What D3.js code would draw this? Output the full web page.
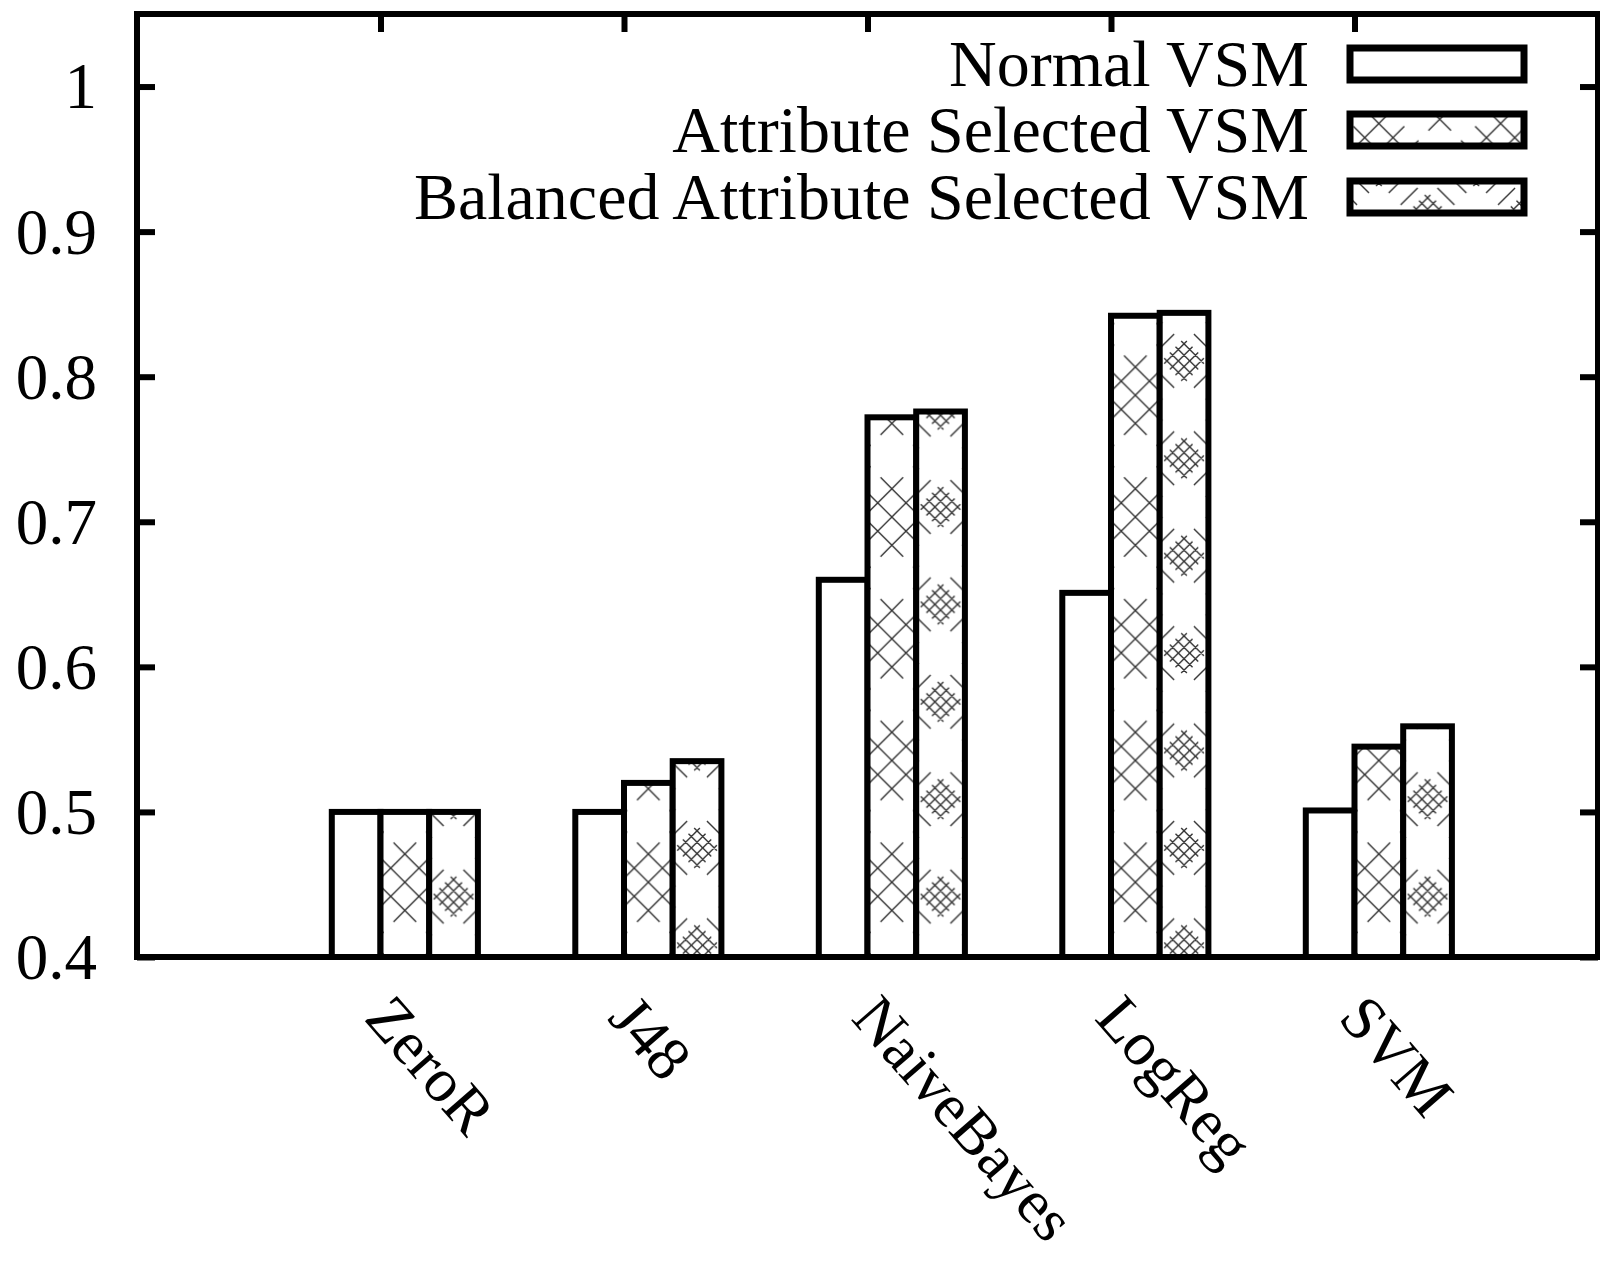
<!DOCTYPE html>
<html>
<head>
<meta charset="utf-8">
<script src="https://cdn.jsdelivr.net/npm/d3@7"></script>
<style>
  body { margin: 0; background: #fff; }
  svg { display: block; }
  text { font-family: "Liberation Serif", "Times New Roman", serif; fill: #000; }
</style>
</head>
<body>
<div id="container"></div>
<script>
/* DATA */
const categories = ["ZeroR", "J48", "NaiveBayes", "LogReg", "SVM"];
const seriesNames = ["Normal VSM", "Attribute Selected VSM", "Balanced Attribute Selected VSM"];
const normalVSM = [0.5, 0.5, 0.66, 0.651, 0.501];
const attrVSM = [0.5, 0.52, 0.772, 0.842, 0.545];
const balancedVSM = [0.5, 0.535, 0.776, 0.844, 0.559];
const yTicks = [0.4, 0.5, 0.6, 0.7, 0.8, 0.9, 1];

const seriesValues = [normalVSM, attrVSM, balancedVSM];

/* CONSTANTS */
const width = 1600, height = 1261;
const plot = { left: 137, right: 1598, top: 14, bottom: 957 };
const tickLen = 18, lw = 6;

/* SCALES */
const xScale = d3.scaleLinear()
  .domain([0, 6])
  .range([plot.left, plot.right]);

const yScale = d3.scaleLinear()
  .domain([0.4, 1.05])
  .range([plot.bottom, plot.top]);

const barW = 0.2; // in x units
const unit = xScale(1) - xScale(0);

/* SVG */
const svg = d3.select("#container")
  .append("svg")
  .attr("width", width)
  .attr("height", height);

svg.append("rect").attr("width", width).attr("height", height).attr("fill", "#fff");

/* PATTERNS */
const defs = svg.append("defs");
const r2 = Math.SQRT1_2;

// crosshatch cluster, lines along both diagonals
function cluster(cx, cy, R, s, ext) {
  let d = "";
  for (let v = -R; v <= R + 0.01; v += s) {
    const ox = cx + v * r2, oy = cy - v * r2;
    d += `M${ox - ext * r2},${oy - ext * r2}L${ox + ext * r2},${oy + ext * r2}`;
    const px = cx + v * r2, py = cy + v * r2;
    d += `M${px - ext * r2},${py + ext * r2}L${px + ext * r2},${py - ext * r2}`;
  }
  return d;
}

function makePattern(id, size, x0, y0, parts) {
  const p = defs.append("pattern")
    .attr("id", id)
    .attr("patternUnits", "userSpaceOnUse")
    .attr("x", x0)
    .attr("y", y0)
    .attr("width", size)
    .attr("height", size);
  p.append("rect").attr("width", size).attr("height", size).attr("fill", "#fff");
  const centers = [[0, 0], [size, 0], [0, size], [size, size], [size / 2, size / 2]];
  let d = "";
  centers.forEach(([cx, cy]) => { d += parts(cx, cy); });
  p.append("path")
    .attr("d", d)
    .attr("stroke", "#333")
    .attr("stroke-width", 1.4)
    .attr("fill", "none");
}

// tiles sized so clusters line up with the bar centres of each series
makePattern("pat-attr", unit / 2, xScale(1.1), 30, (cx, cy) => cluster(cx, cy, 20, 20, 36));
makePattern("pat-bal", unit / 2.5, xScale(1.3), 20, (cx, cy) => cluster(cx, cy, 12, 8, 16) + cluster(cx, cy, 26, 52, 12));

const fills = ["#fff", "url(#pat-attr)", "url(#pat-bal)"];

/* AXES */
const fmt = d => d === 1 ? "1" : d.toFixed(1);

const yLeft = svg.append("g")
  .attr("transform", `translate(${plot.left},0)`)
  .call(d3.axisLeft(yScale).tickValues(yTicks).tickSize(-tickLen).tickPadding(40).tickFormat(fmt));

const yRight = svg.append("g")
  .attr("transform", `translate(${plot.right},0)`)
  .call(d3.axisRight(yScale).tickValues(yTicks).tickSize(-tickLen).tickFormat(""));

const catPos = categories.map((c, i) => i + 1);

const xTop = svg.append("g")
  .attr("transform", `translate(0,${plot.top})`)
  .call(d3.axisTop(xScale).tickValues(catPos).tickSize(-tickLen).tickFormat(""));

const xBottom = svg.append("g")
  .attr("transform", `translate(0,${plot.bottom})`)
  .call(d3.axisBottom(xScale).tickValues(catPos).tickSize(-tickLen).tickFormat((d, i) => categories[i]));

[yLeft, yRight, xTop, xBottom].forEach(g => {
  g.select(".domain").remove();
  g.selectAll(".tick line").attr("stroke", "#000").attr("stroke-width", lw);
  g.selectAll(".tick text").attr("font-size", 65).attr("font-family", null);
});
yLeft.selectAll(".tick text").attr("dy", "0.33em");

xBottom.selectAll(".tick text")
  .attr("font-size", 62)
  .attr("x", 0).attr("y", 0).attr("dy", 0)
  .attr("text-anchor", "start")
  .attr("transform", "translate(-18,62) rotate(49)");

/* BARS */
const barData = [];
categories.forEach((c, i) => {
  seriesValues.forEach((vals, s) => {
    barData.push({ cat: c, pos: i + 1, s, value: vals[i] });
  });
});

svg.append("g")
  .selectAll("rect")
  .data(barData)
  .join("rect")
  .attr("x", d => xScale(d.pos + (d.s - 1) * barW))
  .attr("width", xScale(barW) - xScale(0))
  .attr("y", d => yScale(d.value))
  .attr("height", d => yScale(0.4) - yScale(d.value))
  .attr("fill", d => fills[d.s])
  .attr("stroke", "#000")
  .attr("stroke-width", lw);

/* FRAME */
svg.append("rect")
  .attr("x", plot.left)
  .attr("y", plot.top)
  .attr("width", plot.right - plot.left)
  .attr("height", plot.bottom - plot.top)
  .attr("fill", "none")
  .attr("stroke", "#000")
  .attr("stroke-width", lw);

/* LEGEND */
const legendY = [64, 130, 197];
const legend = svg.append("g");
seriesNames.forEach((name, i) => {
  legend.append("text")
    .attr("x", 1309)
    .attr("y", legendY[i])
    .attr("dy", "0.33em")
    .attr("text-anchor", "end")
    .attr("font-size", 66)
    .text(name);
  legend.append("rect")
    .attr("x", 1350)
    .attr("y", legendY[i] - 16)
    .attr("width", 174)
    .attr("height", 32)
    .attr("fill", fills[i])
    .attr("stroke", "#000")
    .attr("stroke-width", 7);
});
</script>
</body>
</html>
